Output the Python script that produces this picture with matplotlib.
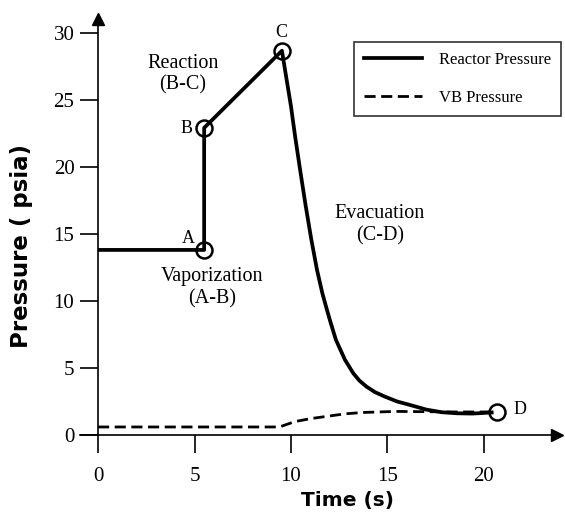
import matplotlib
matplotlib.use("Agg")
import matplotlib.pyplot as plt

# Reactor pressure (psia) vs time (s)
t_reactor = [0, 5.5, 5.5, 9.53, 10.0, 10.22, 10.48, 10.76, 11.05, 11.35, 11.62, 11.85,
             12.05, 12.33, 12.8, 13.23, 13.55, 13.92, 14.35, 14.87, 15.5, 16.17, 17.0,
             17.8, 18.6, 19.4, 20.4]
p_reactor = [13.8, 13.8, 22.9, 28.65, 24.5, 22.2, 19.7, 17.1, 14.6, 12.3, 10.6, 9.4,
             8.4, 7.09, 5.6, 4.6, 4.05, 3.6, 3.2, 2.86, 2.5, 2.24, 1.9,
             1.7, 1.62, 1.6, 1.68]

# VB pressure
t_vb = [0, 9.4, 10.2, 11.0, 11.9, 12.8, 13.7, 15.4, 17.0, 18.5, 20.4]
p_vb = [0.6, 0.6, 1.0, 1.22, 1.4, 1.58, 1.68, 1.76, 1.74, 1.72, 1.72]

# labelled state points
pt_names = ["A", "B", "C", "D"]
pt_t = [5.5, 5.5, 9.53, 20.67]
pt_p = [13.8, 22.9, 28.65, 1.72]
lbl_t = [4.66, 4.56, 9.48, 21.86]
lbl_p = [14.65, 22.84, 30.0, 1.94]

serif = "Liberation Serif"

fig = plt.figure(figsize=(5.65, 5.13), dpi=100)
ax = fig.add_axes([0.1735, 0.152, 0.8265, 0.821])

ax.plot(t_reactor, p_reactor, color="black", lw=2.7, label="Reactor Pressure",
        solid_joinstyle="round")
ax.plot(t_vb, p_vb, color="black", lw=2.0, ls=(0, (4, 2)), label="VB Pressure")
ax.plot(pt_t, pt_p, ls="none", marker="o", ms=11.5, mfc="none", mec="black", mew=1.8)

for n, x, y in zip(pt_names, lbl_t, lbl_p):
    ax.text(x, y, n, family=serif, fontsize=13, ha="center", va="center")

ax.text(4.4, 26.9, "Reaction\n(B-C)", family=serif, fontsize=14.5, ha="center",
        va="center", linespacing=1.2)
ax.text(5.9, 11.0, "Vaporization\n(A-B)", family=serif, fontsize=14.5, ha="center",
        va="center", linespacing=1.2)
ax.text(14.6, 15.7, "Evacuation\n(C-D)", family=serif, fontsize=14.5, ha="center",
        va="center", linespacing=1.2)

ax.set_xlim(0, 24.2)
ax.set_ylim(0, 31.4)
ax.set_xticks([0, 5, 10, 15, 20])
ax.set_yticks([0, 5, 10, 15, 20, 25, 30])
ax.tick_params(direction="out", length=13, width=1.2, labelsize=15)
ax.tick_params(axis="x", pad=10)
ax.tick_params(axis="y", pad=4)
for lab in ax.get_xticklabels() + ax.get_yticklabels():
    lab.set_family(serif)

for s in ["top", "right"]:
    ax.spines[s].set_visible(False)
ax.spines["left"].set_linewidth(1.2)
ax.spines["bottom"].set_linewidth(1.2)
ax.spines["left"].set_bounds(0, 30.8)
ax.spines["bottom"].set_bounds(0, 23.6)
# bottom axis continues left of the origin
ax.plot([-0.93, 0], [0, 0], color="black", lw=1.2, clip_on=False)
ax.plot(0, 31.0, marker="^", ms=9, color="black", clip_on=False)
ax.plot(23.8, 0, marker=">", ms=9, color="black", clip_on=False)

ax.set_xlabel("Time (s)", fontsize=14.5, fontweight="bold")
ax.xaxis.set_label_coords(0.534, -0.132)
ax.set_ylabel("Pressure ( psia)", fontsize=16.5, fontweight="bold")
ax.yaxis.set_label_coords(-0.139, 0.448)

leg = ax.legend(loc="upper right", bbox_to_anchor=(0.991, 0.934), borderaxespad=0,
                prop={"family": serif, "size": 12}, frameon=True, fancybox=False,
                edgecolor="black", handlelength=3.5, labelspacing=1.35, borderpad=0.6,
                handletextpad=1.0)
leg.get_frame().set_linewidth(1.2)

fig.savefig("out.png", dpi=100)
